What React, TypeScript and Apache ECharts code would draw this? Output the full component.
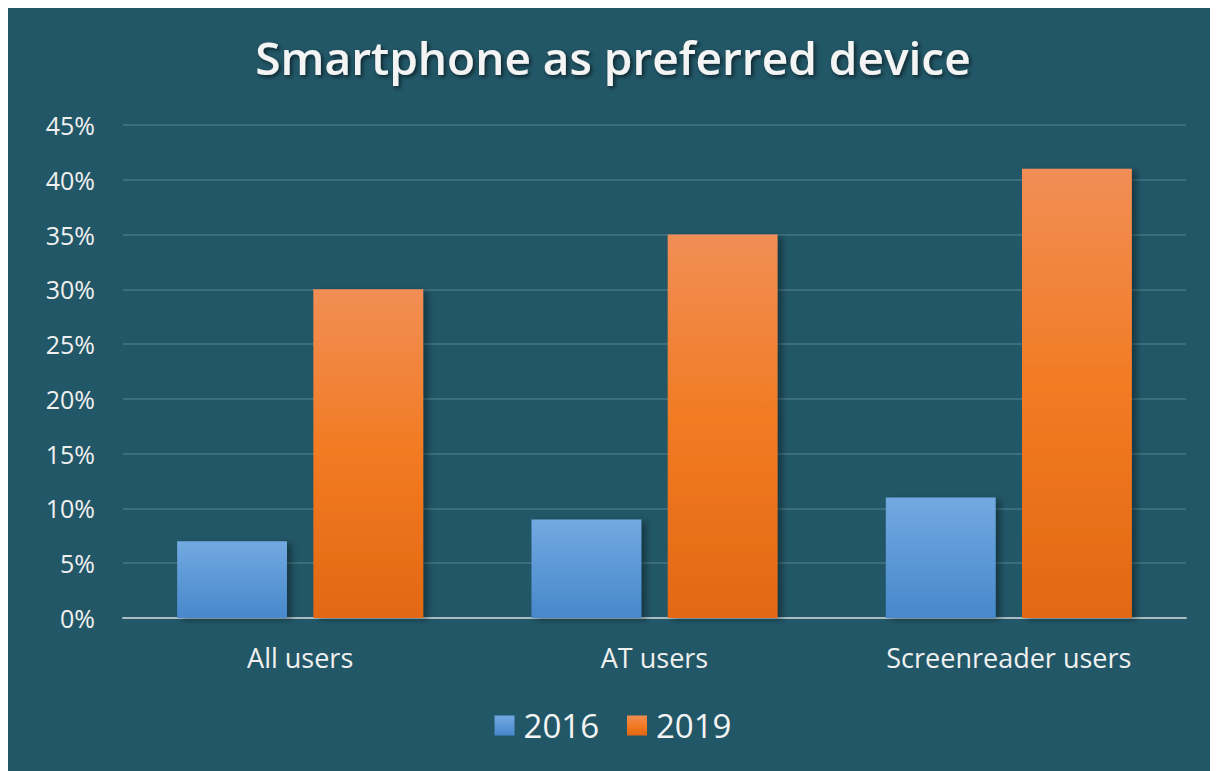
import React, { useEffect, useRef } from "react";
import * as echarts from "echarts";

const categories = ["All users", "AT users", "Screenreader users"];
const series2016 = [7, 9, 11];
const series2019 = [30, 35, 41];
const seriesNames = ["2016", "2019"];

export default function App() {
  const ref = useRef<HTMLDivElement>(null);
  useEffect(() => {
    const chart = echarts.init(ref.current!, null, { renderer: "svg" });
    const font = "Open Sans";
    chart.setOption({
      animation: false,
      backgroundColor: "#225767",
      title: {
        text: "Smartphone as preferred device",
        left: "center",
        top: 21,
        textStyle: {
          color: "#f4f4f4",
          fontSize: 46,
          fontWeight: 600,
          fontFamily: font,
          textShadowColor: "rgba(0,0,0,0.6)",
          textShadowBlur: 4,
          textShadowOffsetX: 2,
          textShadowOffsetY: 2,
        },
      },
      grid: { left: 115, right: 32, top: 117, bottom: 153 },
      legend: {
        bottom: 24,
        left: "center",
        icon: "rect",
        itemWidth: 20,
        itemHeight: 20,
        itemGap: 28,
        textStyle: { color: "#f4f4f4", fontSize: 33, fontFamily: font, padding: [0, 0, 0, 4] },
        data: seriesNames,
      },
      xAxis: {
        type: "category",
        data: categories,
        axisLine: { lineStyle: { color: "#a9bcc1", width: 2 } },
        axisTick: { show: false },
        axisLabel: { color: "#f0f0f0", fontSize: 27, fontFamily: font, margin: 26 },
      },
      yAxis: {
        type: "value",
        min: 0,
        max: 45,
        interval: 5,
        axisLine: { show: false },
        axisTick: { show: false },
        splitLine: { lineStyle: { color: "#3d6e7d", width: 2 } },
        axisLabel: {
          color: "#f0f0f0",
          fontSize: 25,
          fontFamily: font,
          formatter: "{value}%",
          margin: 28,
        },
      },
      series: [
        {
          name: seriesNames[0],
          type: "bar",
          data: series2016,
          barWidth: "31%",
          barGap: "24%",
          itemStyle: {
            color: new echarts.graphic.LinearGradient(0, 0, 0, 1, [
              { offset: 0, color: "#72a9e1" },
              { offset: 1, color: "#4788cb" },
            ]),
            shadowColor: "rgba(0,0,0,0.35)",
            shadowBlur: 6,
            shadowOffsetX: 5,
            shadowOffsetY: 2,
          },
        },
        {
          name: seriesNames[1],
          type: "bar",
          data: series2019,
          barWidth: "31%",
          itemStyle: {
            color: new echarts.graphic.LinearGradient(0, 0, 0, 1, [
              { offset: 0, color: "#f18e55" },
              { offset: 0.5, color: "#f27a22" },
              { offset: 1, color: "#e26813" },
            ]),
            shadowColor: "rgba(0,0,0,0.35)",
            shadowBlur: 6,
            shadowOffsetX: 5,
            shadowOffsetY: 2,
          },
        },
      ],
    });
    return () => chart.dispose();
  }, []);
  return <div ref={ref} style={{ width: 1210, height: 763 }} />;
}
